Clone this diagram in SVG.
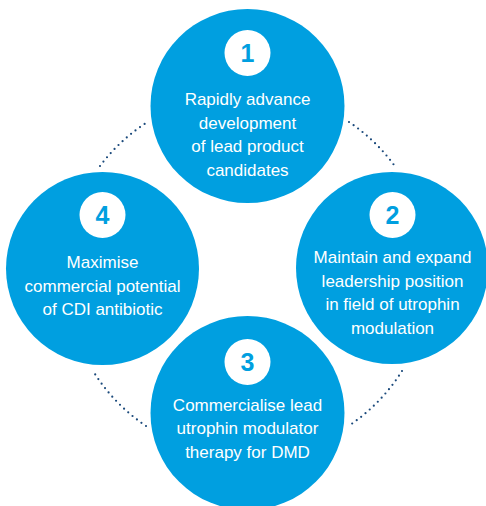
<svg xmlns="http://www.w3.org/2000/svg" width="486" height="506" viewBox="0 0 486 506">
  <style>
    .disc { fill: #009fe0; }
    .badge { fill: #ffffff; }
    .num { font-family: "Liberation Sans", Arial, sans-serif; font-size: 25px; font-weight: bold; fill: #009fe0; text-anchor: middle; }
    .label { font-family: "Liberation Sans", Arial, sans-serif; font-size: 17px; fill: #ffffff; text-anchor: middle; }
    .dots { fill: none; stroke: #1b4a7c; stroke-width: 2.2; stroke-linecap: round; stroke-dasharray: 0 5.6; }
  </style>
  <rect width="486" height="506" fill="#ffffff"/>

  <!-- dotted arcs linking neighbouring steps -->
  <g id="connectors">
    <path class="dots" d="M100,166 A182,182 0 0 1 146,123"/>
    <path class="dots" d="M349,122 A182,182 0 0 1 394,165"/>
    <path class="dots" d="M402,371 A182,182 0 0 1 350,425"/>
    <path class="dots" d="M146,426 A182,182 0 0 1 92.7,370.5"/>
  </g>

  <g id="step1">
    <circle class="disc" cx="247.5" cy="106" r="97"/>
    <circle class="badge" cx="247.5" cy="53" r="23"/>
    <text class="num" x="247.5" y="62">1</text>
    <text class="label" x="247.5" y="105">Rapidly advance</text>
    <text class="label" x="247.5" y="129">development</text>
    <text class="label" x="247.5" y="152">of lead product</text>
    <text class="label" x="247.5" y="176">candidates</text>
  </g>

  <g id="step2">
    <circle class="disc" cx="392" cy="268" r="96"/>
    <circle class="badge" cx="392.5" cy="215" r="23"/>
    <text class="num" x="392.5" y="224">2</text>
    <text class="label" x="392.5" y="263">Maintain and expand</text>
    <text class="label" x="392.5" y="287">leadership position</text>
    <text class="label" x="392.5" y="310">in field of utrophin</text>
    <text class="label" x="392.5" y="334">modulation</text>
  </g>

  <g id="step3">
    <circle class="disc" cx="247.5" cy="413" r="97"/>
    <circle class="badge" cx="247.5" cy="362" r="23"/>
    <text class="num" x="247.5" y="371">3</text>
    <text class="label" x="247.5" y="411">Commercialise lead</text>
    <text class="label" x="247.5" y="434">utrophin modulator</text>
    <text class="label" x="247.5" y="458">therapy for DMD</text>
  </g>

  <g id="step4">
    <circle class="disc" cx="102.5" cy="268.5" r="96.5"/>
    <circle class="badge" cx="102.5" cy="215" r="23"/>
    <text class="num" x="102.5" y="224">4</text>
    <text class="label" x="102.5" y="268">Maximise</text>
    <text class="label" x="102.5" y="292">commercial potential</text>
    <text class="label" x="102.5" y="315">of CDI antibiotic</text>
  </g>
</svg>
